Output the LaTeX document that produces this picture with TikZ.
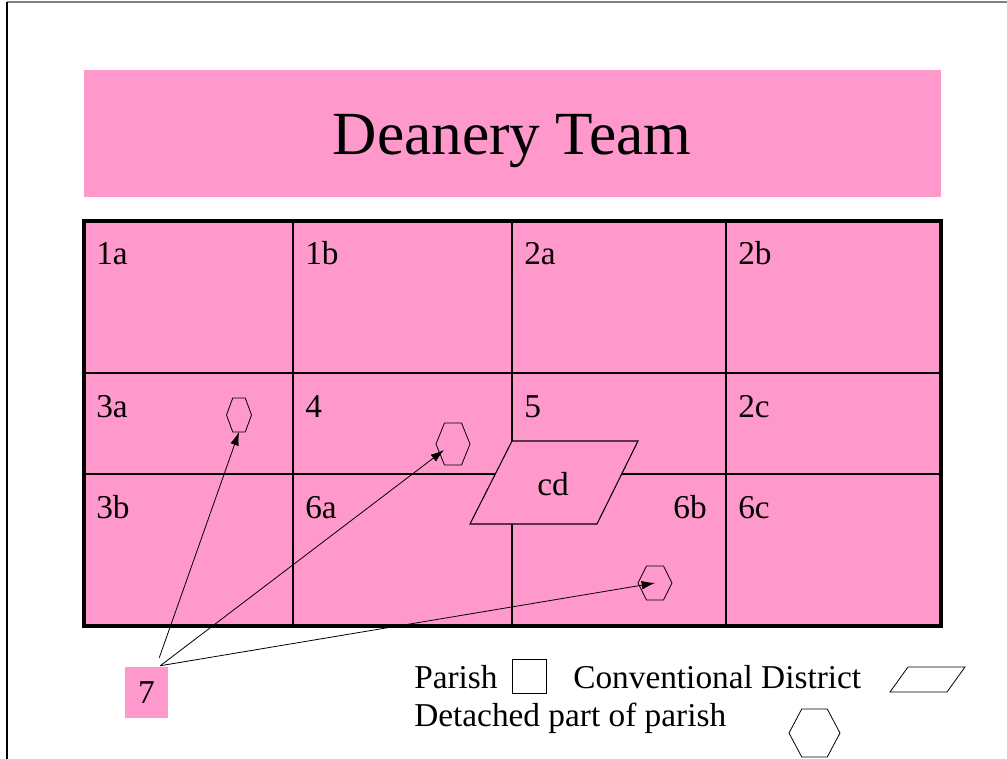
\documentclass[tikz,border=0pt]{standalone}
\usepackage{fontspec}
\setmainfont{Liberation Serif}
\usetikzlibrary{shapes.geometric,arrows.meta,calc}
\definecolor{deanpink}{RGB}{255,153,204}
\tikzset{
  hexa/.style 2 args={draw,line width=0.6pt,regular polygon,regular polygon sides=6,minimum size=#1,yscale=#2,inner sep=0pt,outer sep=0pt},
  celltext/.style={anchor=base west,inner sep=0pt,font=\fontsize{25}{30}\selectfont},
  pointer/.style={-{Latex[length=10pt,width=6.5pt]},line width=0.6pt},
}
\begin{document}
\begin{tikzpicture}[x=0.75pt,y=-0.75pt]
\useasboundingbox (0,0) rectangle (1007,759);
% frame
\draw[gray,line width=0.8pt] (7,2) -- (1007,2);
\draw[line width=0.8pt] (7,2) -- (7,759);
% title
\fill[deanpink] (84,70) rectangle (941,197);
\node[anchor=base,inner sep=0pt,font=\fontsize{46}{55}\selectfont] (title) at (512,155) {Deanery Team};
% parishes
\fill[deanpink] (84,221) rectangle (941,626);
\foreach \x in {293,512,726}
  \draw[line width=1pt] (\x,221) -- (\x,626);
\foreach \y in {373,474}
  \draw[line width=1pt] (84,\y) -- (941,\y);
\draw[line width=2.4pt] (84,221) rectangle (941,626);
\foreach \lab/\x/\y in {1a/84/221,1b/293/221,2a/512/221,2b/726/221,3a/84/373,4/293/373,5/512/373,2c/726/373,3b/84/474,6a/293/474,6c/726/474}
  \node[celltext] (c\lab) at (\x+12,\y+44) {\lab};
\node[celltext,anchor=base east] (c6b) at (707,518) {6b};
% conventional district
\filldraw[fill=deanpink,line width=0.8pt] (470,524) -- (512,441) -- (638,441) -- (597,524) -- cycle;
\node[font=\fontsize{25}{30}\selectfont] (cd) at (553,484) {cd};
% detached parts
\node[hexa={18.75pt}{1.57}] (hexA) at (239,415) {};
\node[hexa={25.5pt}{1.43}] (hexB) at (453,444) {};
\node[hexa={25.5pt}{1.155}] (hexC) at (655,583) {};
\node[fill=deanpink,minimum width=32.25pt,minimum height=38.25pt,inner sep=0pt,font=\fontsize{25}{30}\selectfont] (p7) at (146.5,692.5) {7};
\draw[pointer] ($(p7.north east)+(-9,-9)$) -- (hexA.south);
\draw[pointer] ($(p7.north east)+(-8,-1)$) -- ($(hexB.center)+(-9,6)$);
\draw[pointer] ($(p7.north east)+(-8,-1)$) -- (hexC.center);
% key
\node[celltext] (parish) at (414,688) {Parish};
\node[draw,line width=0.6pt,minimum size=25.5pt,inner sep=0pt] (parishkey) at (529,676) {};
\node[celltext] (conv) at (573,688) {Conventional District};
\draw[line width=0.6pt] (890,692) -- (908,667) -- (965,667) -- (947,692) -- cycle;
\node[celltext] (detached) at (414,726) {Detached part of parish};
\node[hexa={38.25pt}{1.087}] (detkey) at (814.5,733) {};
\end{tikzpicture}
\end{document}
